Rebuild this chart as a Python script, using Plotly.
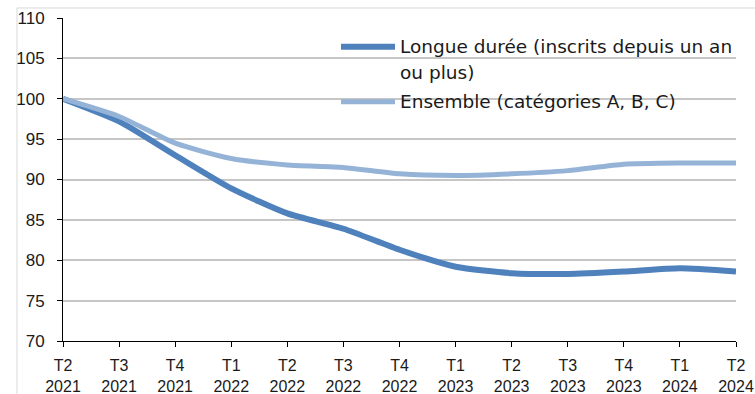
import plotly.graph_objects as go

# Quarterly index of job seekers (base 100 = T2 2021)
quarters = ["T2<br>2021", "T3<br>2021", "T4<br>2021", "T1<br>2022", "T2<br>2022",
            "T3<br>2022", "T4<br>2022", "T1<br>2023", "T2<br>2023", "T3<br>2023",
            "T4<br>2023", "T1<br>2024", "T2<br>2024"]
longue_duree = [100.0, 97.2, 93.0, 88.9, 85.8, 83.9, 81.3, 79.2, 78.4, 78.3, 78.6, 79.0, 78.6]
ensemble = [100.0, 97.8, 94.5, 92.6, 91.8, 91.5, 90.7, 90.5, 90.7, 91.1, 91.9, 92.05, 92.05]

series_names = ["Longue durée (inscrits depuis un an", "ou plus)", "Ensemble (catégories A, B, C)"]
colors = ["#4f81bd", "#95b3d7"]

x_pos = list(range(len(quarters)))

TICK_FONT = "Liberation Sans"
KEY_FONT = "DejaVu Sans"
TXT = "#1a1a1a"

fig = go.Figure()
fig.add_trace(go.Scatter(
    x=x_pos, y=longue_duree, mode="lines",
    name=series_names[0] + " " + series_names[1],
    line=dict(color=colors[0], width=6, shape="spline", smoothing=0.6),
))
fig.add_trace(go.Scatter(
    x=x_pos, y=ensemble, mode="lines",
    name=series_names[2],
    line=dict(color=colors[1], width=5, shape="spline", smoothing=0.6),
))

# Key drawn inside the plot area: a short line swatch followed by its label
key_x0, key_x1, key_tx = 0.4131, 0.4933, 0.4978
key_rows = [0.911, 0.832, 0.741]   # paper y of each key text row

shapes = [dict(
    type="rect", xref="paper", yref="paper",
    x0=-0.0684, x1=1.2, y0=-0.3, y1=1.031,
    line=dict(color="#d9d9d9", width=1), fillcolor="rgba(0,0,0,0)",
    layer="below",
)]
shapes.append(dict(type="line", xref="paper", yref="paper",
                   x0=key_x0, x1=key_x1, y0=key_rows[0], y1=key_rows[0],
                   line=dict(color=colors[0], width=6)))
shapes.append(dict(type="line", xref="paper", yref="paper",
                   x0=key_x0, x1=key_x1, y0=key_rows[2], y1=key_rows[2],
                   line=dict(color=colors[1], width=5)))

annotations = [
    dict(xref="paper", yref="paper", x=key_tx, y=yy, text=t,
         xanchor="left", yanchor="middle", showarrow=False,
         font=dict(family=KEY_FONT, size=18.5, color=TXT))
    for t, yy in zip(series_names, key_rows)
]

fig.update_layout(
    width=755, height=394,
    margin=dict(l=63, r=19, t=18, b=53),
    paper_bgcolor="white", plot_bgcolor="white",
    font=dict(family=TICK_FONT, size=16, color=TXT),
    showlegend=False,
    xaxis=dict(
        range=[0, 12], tickmode="array", tickvals=x_pos, ticktext=quarters,
        showgrid=False, zeroline=False, automargin=False,
        showline=True, linecolor="black", linewidth=1,
        ticks="outside", ticklen=5, tickcolor="black",
        tickfont=dict(family=TICK_FONT, size=16, color=TXT),
        ticklabelstandoff=5,
    ),
    yaxis=dict(
        range=[70, 110], dtick=5, tick0=70, automargin=False,
        showgrid=True, gridcolor="#c6c6c6", gridwidth=2,
        zeroline=False,
        showline=True, linecolor="black", linewidth=1,
        ticks="outside", ticklen=5, tickcolor="black",
        tickfont=dict(family=TICK_FONT, size=17, color=TXT),
        ticklabelstandoff=9,
    ),
    shapes=shapes,
    annotations=annotations,
)

fig.write_html("out.html")
